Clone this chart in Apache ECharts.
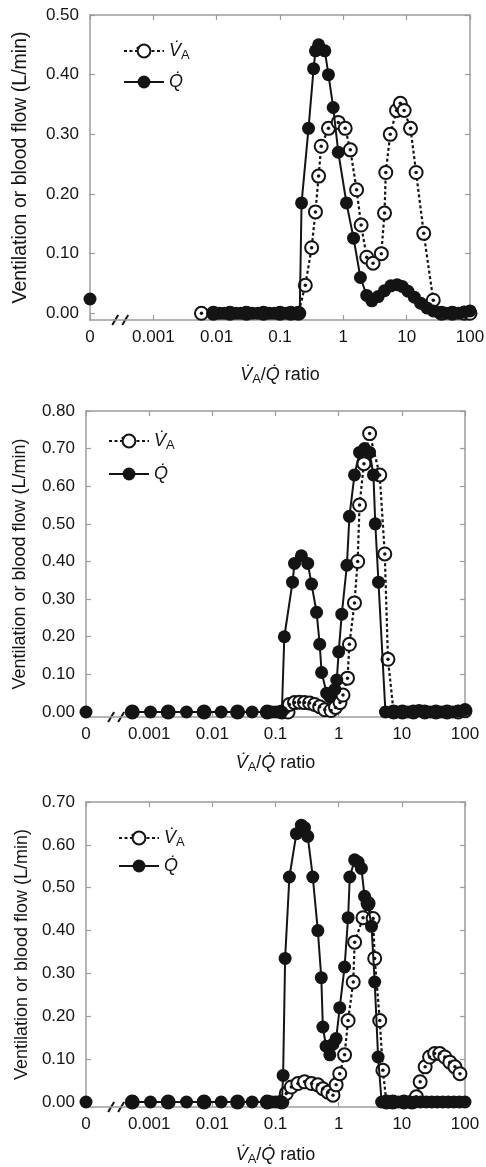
<!DOCTYPE html>
<html>
<head>
<meta charset="utf-8">
<script src="https://cdn.jsdelivr.net/npm/echarts@6/dist/echarts.min.js"></script>
<style>
  html, body { margin: 0; padding: 0; background: #fff; }
  #chart { width: 486px; height: 1167px; }
</style>
</head>
<body>
<div id="chart"></div>
<script>
// tick labels of the ratio axis, one per decade from the "0" slot up to 100
var xTickLabels = ['0', '0.001', '0.01', '0.1', '1', '10', '100']
var zeroSlot = 0.0001   // where ratio 0 (shunt) sits on the log axis
var breakRatio = 0.0003 // axis break between 0 and 0.001

// panel 1
var p1YTicks = [0, 0.1, 0.2, 0.3, 0.4, 0.5]
var p1ShuntQ = 0.024
var p1QRatio = [0.0089, 0.011, 0.0132, 0.0162, 0.02, 0.024, 0.0295, 0.0363, 0.0447, 0.055, 0.0676, 0.0813, 0.1, 0.123, 0.148, 0.182, 0.205, 0.219, 0.282, 0.339, 0.363, 0.407, 0.51, 0.582, 0.692, 0.832, 1.12, 1.45, 1.86, 2.34, 2.82, 3.55, 4.47, 5.62, 7.08, 8.51, 10.5, 13.2, 16.6, 20.9, 26.3, 33.1, 41.7, 52.5, 66.1, 81.3, 100]
var p1QFlow = [0, 0, 0, 0, 0, 0, 0, 0, 0, 0, 0, 0, 0, 0, 0, 0, 0, 0.185, 0.31, 0.41, 0.44, 0.45, 0.44, 0.40, 0.345, 0.27, 0.185, 0.126, 0.06, 0.03, 0.021, 0.028, 0.038, 0.046, 0.048, 0.045, 0.037, 0.027, 0.017, 0.009, 0.004, 0.001, 0, 0, 0, 0.002, 0.004]
var p1VARatio = [0.00575, 0.0089, 0.0162, 0.0295, 0.055, 0.1, 0.148, 0.195, 0.251, 0.316, 0.363, 0.407, 0.447, 0.582, 0.832, 1.07, 1.29, 1.62, 1.91, 2.34, 2.95, 3.98, 4.47, 4.68, 5.5, 6.92, 7.94, 9.12, 11.5, 14.1, 18.6, 26.3, 35.5, 52.5, 81.3, 100]
var p1VAVent = [0, 0, 0, 0, 0, 0, 0, 0, 0.047, 0.11, 0.17, 0.23, 0.28, 0.31, 0.32, 0.31, 0.274, 0.207, 0.148, 0.094, 0.084, 0.10, 0.168, 0.236, 0.30, 0.34, 0.352, 0.34, 0.31, 0.236, 0.134, 0.022, 0, 0, 0, 0]

// panel 2
var p2YTicks = [0, 0.1, 0.2, 0.3, 0.4, 0.5, 0.6, 0.7, 0.8]
var p2ShuntQ = 0
var p2QRatio = [0.00054, 0.00105, 0.002, 0.0039, 0.0074, 0.0138, 0.0251, 0.0427, 0.0741, 0.0871, 0.1, 0.112, 0.126, 0.138, 0.186, 0.2, 0.257, 0.324, 0.372, 0.447, 0.501, 0.537, 0.646, 0.724, 0.871, 0.933, 1.0, 1.12, 1.35, 1.48, 1.78, 2.14, 2.57, 3.09, 3.55, 3.8, 4.27, 5.5, 6.8, 8.3, 10.2, 12.5, 15.3, 18.8, 23, 28.2, 34.6, 42.4, 52, 63.7, 78, 100]
var p2QFlow = [0, 0, 0, 0, 0, 0, 0, 0, 0, 0, 0, 0, 0, 0.20, 0.345, 0.395, 0.415, 0.395, 0.34, 0.265, 0.18, 0.105, 0.05, 0.04, 0.06, 0.085, 0.16, 0.26, 0.39, 0.52, 0.63, 0.69, 0.70, 0.69, 0.63, 0.50, 0.345, 0, 0, 0, 0, 0, 0, 0.004, 0, 0, 0, 0, 0, 0, 0.002, 0.006]
var p2VARatio = [0.00054, 0.002, 0.0074, 0.0251, 0.0741, 0.126, 0.158, 0.166, 0.2, 0.24, 0.288, 0.347, 0.417, 0.5, 0.603, 0.759, 0.891, 1.05, 1.17, 1.38, 1.48, 1.78, 2.0, 2.14, 2.51, 3.09, 4.47, 5.37, 6.03, 7.41, 10.2, 15.3, 23, 34.6, 52, 78, 100]
var p2VAVent = [0, 0, 0, 0, 0, 0, 0, 0.02, 0.025, 0.026, 0.025, 0.024, 0.02, 0.014, 0.006, 0.004, 0.012, 0.025, 0.045, 0.09, 0.18, 0.29, 0.40, 0.55, 0.66, 0.74, 0.63, 0.42, 0.14, 0, 0, 0, 0, 0, 0, 0, 0.003]

// panel 3
var p3YTicks = [0, 0.1, 0.2, 0.3, 0.4, 0.5, 0.6, 0.7]
var p3ShuntQ = 0
var p3QRatio = [0.00054, 0.00105, 0.002, 0.0039, 0.0074, 0.0138, 0.0251, 0.0427, 0.0741, 0.0871, 0.1, 0.112, 0.126, 0.132, 0.142, 0.166, 0.214, 0.257, 0.288, 0.324, 0.389, 0.468, 0.531, 0.562, 0.631, 0.724, 0.813, 0.912, 1.04, 1.24, 1.41, 1.5, 1.79, 2.03, 2.29, 2.57, 2.92, 3.31, 3.72, 4.21, 4.79, 5.9, 7.2, 8.8, 10.8, 13.2, 16.2, 19.8, 24.3, 29.7, 36.3, 44.5, 54.4, 66.6, 81.5, 100]
var p3QFlow = [0, 0, 0, 0, 0, 0, 0, 0, 0, 0, 0, 0, 0, 0.062, 0.335, 0.525, 0.626, 0.646, 0.64, 0.62, 0.525, 0.40, 0.29, 0.175, 0.13, 0.11, 0.135, 0.148, 0.22, 0.315, 0.43, 0.525, 0.565, 0.56, 0.545, 0.48, 0.46, 0.41, 0.28, 0.105, 0, 0, 0, 0, 0, 0, 0, 0, 0, 0, 0, 0, 0, 0, 0, 0]
var p3VARatio = [0.00054, 0.002, 0.0074, 0.0251, 0.0741, 0.126, 0.148, 0.178, 0.226, 0.288, 0.372, 0.468, 0.562, 0.676, 0.813, 0.912, 1.04, 1.24, 1.41, 1.7, 1.79, 2.43, 2.92, 3.51, 3.72, 4.47, 5.01, 5.7, 7.2, 10.8, 14.5, 17, 19.5, 23.4, 27.5, 33.1, 39.8, 47.9, 57.5, 69.2, 83.2]
var p3VAVent = [0, 0, 0, 0, 0, 0, 0.02, 0.035, 0.043, 0.047, 0.043, 0.04, 0.031, 0.023, 0.016, 0.04, 0.066, 0.11, 0.19, 0.28, 0.373, 0.43, 0.463, 0.428, 0.335, 0.19, 0.074, 0, 0, 0, 0, 0.012, 0.047, 0.082, 0.105, 0.113, 0.113, 0.105, 0.093, 0.082, 0.066]

var FONT = '"Liberation Sans", Arial, Helvetica, sans-serif'
var INK = '#141414'
var FRAME = '#9c9c9c'

function pairs (xs, ys) {
  return xs.map(function (x, i) { return [x, ys[i]] })
}

var panels = [
  { grid: { left: 90, top: 15, width: 380, height: 305 }, yMin: -0.0112, yMax: 0.5, yTicks: p1YTicks,
    shunt: p1ShuntQ, q: pairs(p1QRatio, p1QFlow), va: pairs(p1VARatio, p1VAVent),
    legend: { left: 118, top: 37, gap: 11 }, nameSize: 19.5, nameGap: 59, xNameGap: 44 },
  { grid: { left: 86, top: 411, width: 379, height: 306 }, yMin: -0.0133, yMax: 0.8, yTicks: p2YTicks,
    shunt: p2ShuntQ, q: pairs(p2QRatio, p2QFlow), va: pairs(p2VARatio, p2VAVent),
    legend: { left: 103, top: 427, gap: 13 }, nameSize: 18, nameGap: 57, xNameGap: 35 },
  { grid: { left: 86, top: 802, width: 379, height: 305 }, yMin: -0.0117, yMax: 0.7, yTicks: p3YTicks,
    shunt: p3ShuntQ, q: pairs(p3QRatio, p3QFlow), va: pairs(p3VARatio, p3VAVent),
    legend: { left: 113, top: 824, gap: 8 }, nameSize: 18, nameGap: 55, xNameGap: 37 }
]

var subRich = {
  i: { fontFamily: FONT, fontSize: 18, fontStyle: 'italic', color: INK, lineHeight: 22 },
  s: { fontFamily: FONT, fontSize: 13, color: INK, lineHeight: 12, verticalAlign: 'bottom' },
  n: { fontFamily: FONT, fontSize: 18, color: INK, lineHeight: 22 }
}

var option = {
  animation: false,
  backgroundColor: '#fff',
  grid: [], xAxis: [], yAxis: [], legend: [], series: []
}

panels.forEach(function (p, i) {
  option.grid.push(Object.assign({ outerBoundsMode: 'none' }, p.grid))
  var xBase = {
    gridIndex: i, type: 'log', logBase: 10, min: zeroSlot, max: 100,
    axisLine: { onZero: false, lineStyle: { color: FRAME, width: 1.5 } },
    axisTick: { inside: true, length: 5, lineStyle: { color: FRAME, width: 1.2 } },
    minorTick: { show: false }, splitLine: { show: false }
  }
  option.xAxis.push(Object.assign({}, xBase, {
    position: 'bottom',
    axisLabel: {
      margin: 9, fontSize: 17, fontFamily: FONT, color: INK,
      formatter: function (v) { return xTickLabels[Math.round(Math.log10(v)) + 4] }
    },
    name: '{i|V\u0307}{s|A}{n|/}{i|Q\u0307}{n| ratio}',
    nameLocation: 'middle', nameGap: p.xNameGap,
    nameTextStyle: { rich: subRich }
  }))
  option.xAxis.push(Object.assign({}, xBase, { position: 'top', axisLabel: { show: false } }))

  var yBase = {
    gridIndex: i, type: 'value', min: p.yMin, max: p.yMax,
    axisLine: { show: true, onZero: false, lineStyle: { color: FRAME, width: 1.5 } },
    axisTick: { show: true, inside: true, length: 5, customValues: p.yTicks, lineStyle: { color: FRAME, width: 1.2 } },
    splitLine: { show: false }
  }
  option.yAxis.push(Object.assign({}, yBase, {
    position: 'left',
    axisLabel: {
      margin: 11, fontSize: 17, fontFamily: FONT, color: INK, customValues: p.yTicks,
      formatter: function (v) { return v.toFixed(2) }
    },
    name: 'Ventilation or blood flow (L/min)',
    nameLocation: 'middle', nameGap: p.nameGap,
    nameTextStyle: { fontFamily: FONT, fontSize: p.nameSize, color: INK }
  }))
  option.yAxis.push(Object.assign({}, yBase, { position: 'right', axisLabel: { show: false } }))

  var xi = 2 * i
  option.series.push({
    name: 'VA', type: 'line', xAxisIndex: xi, yAxisIndex: xi, data: p.va, z: 2,
    symbol: 'circle', symbolSize: 13, clip: false,
    itemStyle: { color: '#fff', borderColor: INK, borderWidth: 2 },
    lineStyle: { color: INK, width: 2.2, type: [3, 2.5] }
  })
  option.series.push({
    name: 'VA centre ' + i, type: 'scatter', xAxisIndex: xi, yAxisIndex: xi, data: p.va, z: 3,
    symbolSize: 3.5, clip: false, itemStyle: { color: INK, opacity: 1 }, silent: true
  })
  option.series.push({
    name: 'Q', type: 'line', xAxisIndex: xi, yAxisIndex: xi, data: p.q, z: 4,
    symbol: 'circle', symbolSize: 13, clip: false,
    itemStyle: { color: INK },
    lineStyle: { color: INK, width: 2 }
  })
  option.series.push({
    name: 'shunt ' + i, type: 'scatter', xAxisIndex: xi, yAxisIndex: xi, data: [[zeroSlot, p.shunt]], z: 4,
    symbolSize: 13, clip: false, itemStyle: { color: INK, opacity: 1 }
  })

  option.legend.push({
    left: p.legend.left, top: p.legend.top, orient: 'vertical',
    itemWidth: 40, itemHeight: 16, itemGap: p.legend.gap, selectedMode: false,
    data: ['VA', 'Q'],
    formatter: function (name) {
      return name === 'VA' ? '{v|V\u0307}{a|A}' : '{v|Q\u0307}'
    },
    textStyle: {
      rich: {
        v: { fontFamily: FONT, fontSize: 18, fontStyle: 'italic', color: INK, lineHeight: 22 },
        a: { fontFamily: FONT, fontSize: 13, color: INK, lineHeight: 12, verticalAlign: 'bottom' }
      }
    }
  })
})

var chart = echarts.init(document.getElementById('chart'), null, { renderer: 'canvas' })
chart.setOption(option)

// axis break marks and the centre dot of the open-circle legend icon
var marks = []
panels.forEach(function (p, i) {
  var pt = chart.convertToPixel({ gridIndex: i }, [breakRatio, p.yMin])
  marks.push({
    type: 'group', x: pt[0], y: pt[1], z: 50,
    children: [
      { type: 'rect', shape: { x: -5, y: -3, width: 10, height: 6 }, style: { fill: '#fff' } },
      { type: 'line', shape: { x1: -8, y1: 5, x2: -2, y2: -5 }, style: { stroke: INK, lineWidth: 2 } },
      { type: 'line', shape: { x1: 2, y1: 5, x2: 8, y2: -5 }, style: { stroke: INK, lineWidth: 2 } }
    ]
  })
  marks.push({
    type: 'circle', z: 50, shape: { cx: p.legend.left + 20, cy: p.legend.top + 11, r: 1.6 },
    style: { fill: INK }
  })
})
chart.setOption({ graphic: marks })
</script>
</body>
</html>
